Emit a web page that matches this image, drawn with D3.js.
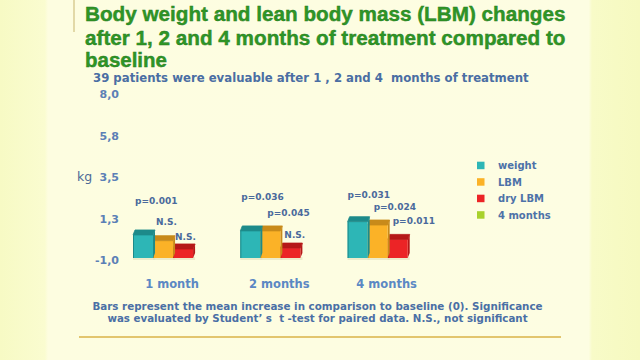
<!DOCTYPE html>
<html><head><meta charset="utf-8">
<script src="https://cdn.jsdelivr.net/npm/d3@7"></script>
<style>html,body{margin:0;padding:0;background:#fdfce0;}svg{display:block;}text{white-space:pre;}</style>
</head><body>
<svg id="c" width="640" height="360"></svg>
<script>
// ---- data ----
const categories = ["1 month", "2 months", "4 months"];
const seriesNames = ["weight", "LBM", "dry LBM", "4 months"];
const weight = [0.52, 0.74, 1.24];
const lbm    = [0.21, 0.74, 1.06];
const dryLbm = [-0.24, -0.19, 0.28];
const pWeight = ["p=0.001", "p=0.036", "p=0.031"];
const pLbm    = ["N.S.", "p=0.045", "p=0.024"];
const pDryLbm = ["N.S.", "N.S.", "p=0.011"];
const tickValues = [-1, 1.25, 3.5, 5.75, 8];
const tickLabels = ["-1,0", "1,3", "3,5", "5,8", "8,0"];
const titleLines = ["Body weight and lean body mass (LBM) changes",
  "after 1, 2 and 4 months of treatment compared to", "baseline"];
const subtitle = "39 patients were evaluable after 1 , 2 and 4  months of treatment";
const footnote = ["Bars represent the mean increase in comparison to baseline (0). Significance",
  "was evaluated by Student\u2019 s  t -test for paired data. N.S., not significant"];

// ---- styles / layout ----
const frontCol = ["#2db6b6", "#fbb227", "#ec2426", "#a8d12c"];
const topCol   = ["#1d8a8a", "#c88a1a", "#b51818", "#7fa01c"];
const labelNudge = [ // [dx, dy] of each p label relative to bar top-left
  [[2,-29],[3,-14],[2,-7]],
  [[1,-29],[7,-13],[4,-8]],
  [[0,-22],[6,-13],[5,-13]]
];

const svg = d3.select("#c");
const defs = svg.append("defs");
const g1 = defs.append("linearGradient").attr("id","bg").attr("x1","0").attr("x2","1");
[[0,"#f7fac4"],[0.07,"#fafcd0"],[0.075,"#fdfde0"],[0.92,"#fdfde2"],[0.925,"#f8fbc8"],[1,"#f6f9c0"]]
  .forEach(([o,c])=>g1.append("stop").attr("offset",o).attr("stop-color",c));
svg.append("rect").attr("width",640).attr("height",360).attr("fill","url(#bg)");

function fit(sel, target){
  const w = sel.node().getComputedTextLength();
  const fs = parseFloat(sel.attr("font-size"));
  sel.attr("font-size", fs*target/w);
  return sel;
}

svg.append("line").attr("x1",74).attr("x2",74).attr("y1",0).attr("y2",32)
  .attr("stroke","#d9cd95").attr("stroke-width",1.5);

const titleY = [21, 44.5, 67];
const titleW = [481, 481, 82];
titleLines.forEach((t,i)=>{
  const s = svg.append("text").attr("x",85).attr("y",titleY[i]).text(t)
    .attr("font-family","Liberation Sans, Arial, sans-serif").attr("font-weight","bold")
    .attr("font-size",18).attr("fill","#2e9626").attr("stroke","#287a1f").attr("stroke-width",0.4);
  fit(s, titleW[i]);
});

svg.append("text").attr("x",93).attr("y",78).attr("dominant-baseline","central")
  .attr("font-family","DejaVu Sans, Verdana, sans-serif").attr("font-weight","bold")
  .attr("font-size",11).attr("fill","#4a6ea3").text(subtitle).call(s=>fit(s,436));

// scales
const y = d3.scaleLinear().domain([-1, 8]).range([258, 92]);
const x = d3.scaleBand().domain(categories).range([133, 407.7]).paddingInner(0.44).paddingOuter(0);
const xs = d3.scaleBand().domain([0,1,2]).range([0, x.bandwidth()]).padding(0);

const yAxis = d3.axisLeft(y).tickValues(tickValues).tickFormat((d,i)=>tickLabels[i]).tickSize(0).tickPadding(0);
const ya = svg.append("g").attr("transform","translate(119,2)").call(yAxis);
ya.select(".domain").remove();
ya.selectAll("text").attr("font-family","DejaVu Sans, Verdana, sans-serif").attr("font-weight","bold")
  .attr("font-size",11).attr("fill","#5b80b6");
svg.append("text").attr("x",77).attr("y",176).attr("dominant-baseline","central")
  .attr("font-family","DejaVu Sans, Verdana, sans-serif").attr("font-size",12.5)
  .attr("fill","#4d6a96").text("kg");

// bars
const series = [weight, lbm, dryLbm];
const pLabels = [pWeight, pLbm, pDryLbm];
const depth = 5, skew = 2;
const bars = [];
categories.forEach((c,ci)=>series.forEach((s,si)=>bars.push({c,ci,si,v:s[ci],p:pLabels[si][ci]})));
const floorY = y(-1);
const bg = svg.append("g");
bg.selectAll("rect.sh").data(bars).join("rect").attr("class","sh")
  .attr("x",d=>x(d.c)+xs(d.si)).attr("y",floorY-1).attr("width",xs.bandwidth()+2).attr("height",3)
  .attr("fill","#e6e4c0").attr("opacity",0.7);
const order = bars.slice().sort((a,b)=> (a.ci-b.ci) || (b.si-a.si));
order.forEach(d=>{
  const x0 = x(d.c)+xs(d.si), x1 = x0+xs.bandwidth();
  const yt = y(d.v), yf = yt+depth;
  bg.append("path").attr("d",`M${x1},${yf}L${x1+skew},${yt}L${x1+skew},${floorY-depth}L${x1},${floorY}Z`)
    .attr("fill",topCol[d.si]);
  bg.append("rect").attr("x",x0).attr("y",yf).attr("width",x1-x0).attr("height",floorY-yf)
    .attr("fill",frontCol[d.si]);
  bg.append("line").attr("x1",x0+0.5).attr("x2",x0+0.5).attr("y1",yf).attr("y2",floorY)
    .attr("stroke",topCol[d.si]).attr("stroke-width",1);
  bg.append("path").attr("d",`M${x0},${yf}L${x0+skew},${yt}L${x1+skew},${yt}L${x1},${yf}Z`)
    .attr("fill",topCol[d.si]).attr("stroke",topCol[d.si]).attr("stroke-width",0.8).attr("stroke-linejoin","round");
});

svg.append("g").selectAll("text").data(bars).join("text")
  .attr("x",d=>x(d.c)+xs(d.si)+labelNudge[d.ci][d.si][0])
  .attr("y",d=>y(d.v)+labelNudge[d.ci][d.si][1])
  .attr("dominant-baseline","central")
  .attr("font-family","DejaVu Sans, Verdana, sans-serif").attr("font-weight","bold")
  .attr("font-size",9).attr("fill","#4a6a9c").text(d=>d.p);

svg.append("g").selectAll("text").data(categories).join("text")
  .attr("x",d=>x(d)+x.bandwidth()/2+9).attr("y",284).attr("text-anchor","middle")
  .attr("dominant-baseline","central")
  .attr("font-family","DejaVu Sans, Verdana, sans-serif").attr("font-weight","bold")
  .attr("font-size",11.5).attr("fill","#5b88c4").text(d=>d);

const lg = svg.append("g").attr("transform","translate(477,165.5)");
seriesNames.forEach((n,i)=>{
  lg.append("rect").attr("x",0).attr("y",i*16.5-3.8).attr("width",7.5).attr("height",7.5).attr("fill",frontCol[i]);
  lg.append("text").attr("x",21).attr("y",i*16.5).attr("dominant-baseline","central")
    .attr("font-family","DejaVu Sans, Verdana, sans-serif").attr("font-weight","bold")
    .attr("font-size",10).attr("fill","#4d72a8").text(n);
});

const fw = [451, 421];
footnote.forEach((t,i)=>{
  svg.append("text").attr("x",317.5).attr("y",305.7+i*12).attr("text-anchor","middle")
    .attr("dominant-baseline","central")
    .attr("font-family","DejaVu Sans, Verdana, sans-serif").attr("font-weight","bold")
    .attr("font-size",9.5).attr("fill","#4a6fa5").text(t).call(s=>fit(s,fw[i]));
});
svg.append("line").attr("x1",79).attr("x2",561).attr("y1",337).attr("y2",337)
  .attr("stroke","#e2c56e").attr("stroke-width",2);
</script>
</body></html>
